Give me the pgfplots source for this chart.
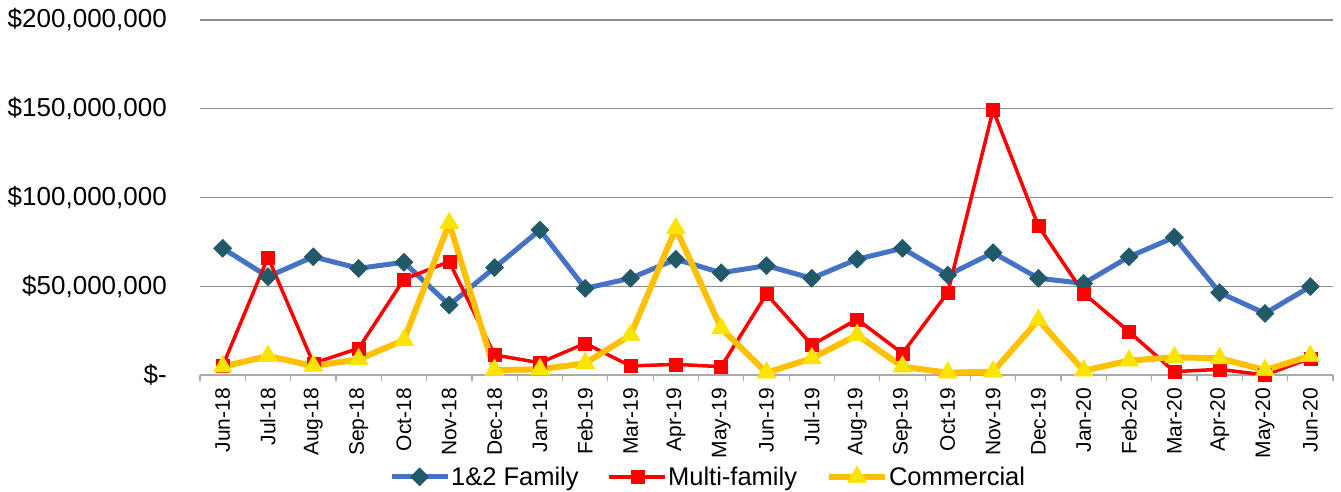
\documentclass[border=0pt]{standalone}
\usepackage{pgfplots}
\pgfplotsset{compat=1.18}
\usepackage{fontspec}
\setmainfont{Liberation Sans}
\definecolor{famline}{RGB}{68,114,196}
\definecolor{fammark}{RGB}{33,89,104}
\definecolor{comline}{RGB}{255,192,0}
\definecolor{commark}{RGB}{250,228,0}
\definecolor{gridc}{RGB}{140,140,140}
\definecolor{axisc}{RGB}{170,170,170}
\begin{document}
\begin{tikzpicture}[x=1pt,y=1pt]
\begin{axis}[
  at={(0,0)}, anchor=south west,
  scale only axis, width=1133pt, height=355pt,
  xmin=-0.5, xmax=24.5, ymin=0, ymax=200,
  axis x line*=bottom, axis y line*=left,
  axis line style={draw=none},
  x axis line style={draw=axisc, line width=1.2pt},
  ymajorgrids, grid style={gridc, line width=1.2pt},
  ytick={0,50,100,150,200},
  yticklabels={{\$-},{\$50,000,000},{\$100,000,000},{\$150,000,000},{\$200,000,000}},
  yticklabel style={font=\fontsize{26}{29}\selectfont, anchor=east, inner sep=0pt},
  yticklabel shift=33pt,
  ytick style={draw=none},
  xtick={0,...,24},
  xticklabels={Jun-18,Jul-18,Aug-18,Sep-18,Oct-18,Nov-18,Dec-18,Jan-19,Feb-19,Mar-19,Apr-19,May-19,Jun-19,Jul-19,Aug-19,Sep-19,Oct-19,Nov-19,Dec-19,Jan-20,Feb-20,Mar-20,Apr-20,May-20,Jun-20},
  xticklabel style={font=\fontsize{21}{24}\selectfont, rotate=90, anchor=east, inner sep=0pt},
  xticklabel shift=13pt,
  major x tick style={draw=none},
  extra x ticks={-0.5,0.5,...,24.5},
  extra x tick labels={},
  extra x tick style={major tick length=6pt, tick align=outside, major x tick style={draw=axisc, line width=1.2pt}},
  legend columns=-1,
  legend style={draw=none, fill=none, at={(0.448,-0.287)}, anchor=center,
    font=\fontsize{25.5}{28}\selectfont,
    nodes={inner sep=1pt},
    /tikz/every even column/.append style={column sep=28pt}},
  legend image code/.code={\draw[mark repeat=2,mark phase=2,#1] plot coordinates {(0pt,0pt) (28pt,0pt) (56pt,0pt)};},
]
\addplot[famline, line width=5pt, mark=square*, mark size=6.4pt,
  mark options={rotate=45, fill=fammark, draw=fammark, line width=0.5pt}]
  coordinates {(0,71.4)(1,55.4)(2,66.6)(3,60.1)(4,63.5)(5,39.4)(6,60.5)(7,81.7)(8,48.8)(9,54.5)(10,65.2)(11,57.6)(12,61.6)(13,54.5)(14,65.2)(15,71.4)(16,56.3)(17,68.9)(18,54.5)(19,51.6)(20,66.6)(21,77.6)(22,46.4)(23,34.7)(24,49.8)};
\addlegendentry{1\&2 Family}
\addplot[red, line width=3.5pt, mark=square*, mark size=6.5pt,
  mark options={fill=red, draw=red, line width=0.5pt}]
  coordinates {(0,5.1)(1,66.3)(2,6.6)(3,15.0)(4,53.9)(5,63.9)(6,11.3)(7,6.9)(8,17.8)(9,5.1)(10,6.0)(11,4.7)(12,45.6)(13,16.9)(14,31.4)(15,12.2)(16,46.4)(17,149.3)(18,83.9)(19,46.0)(20,24.4)(21,1.9)(22,3.2)(23,0.0)(24,9.4)};
\addlegendentry{Multi-family}
\addplot[comline, line width=6pt, mark=triangle*, mark size=11pt,
  mark options={fill=commark, draw=commark, line width=0.5pt}]
  coordinates {(0,4.7)(1,10.7)(2,5.1)(3,8.8)(4,19.7)(5,85.5)(6,2.8)(7,3.2)(8,6.6)(9,22.5)(10,82.6)(11,26.3)(12,1.3)(13,9.4)(14,22.5)(15,4.7)(16,1.3)(17,1.9)(18,31.0)(19,2.4)(20,8.1)(21,10.0)(22,9.4)(23,2.8)(24,10.7)};
\addlegendentry{Commercial}
\end{axis}
\pgfresetboundingbox
\path[use as bounding box] (-200pt,-116pt) rectangle (1141pt,375pt);
\end{tikzpicture}
\end{document}
